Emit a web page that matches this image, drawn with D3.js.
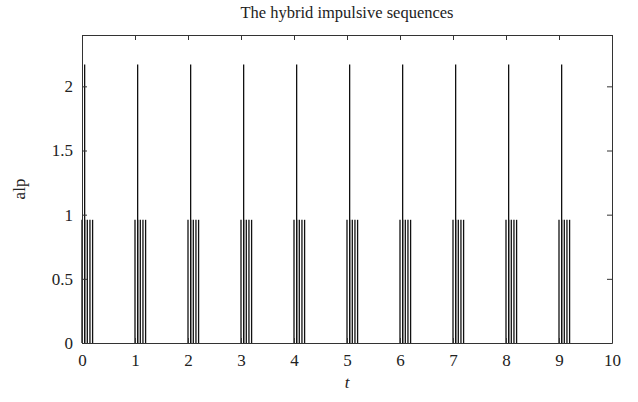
<!DOCTYPE html>
<html>
<head>
<meta charset="utf-8">
<script src="https://cdn.jsdelivr.net/npm/d3@7"></script>
<style>
    body { margin: 0; background: #fff; }
    #chart { width: 638px; height: 402px; }
    text { font-family: "Liberation Serif", "DejaVu Serif", serif; fill: #222; }
</style>
</head>
<body>
<div id="chart"></div>
<script>
// short impulses (height ~0.96), five per period
const shortTimes = [
    0.00, 0.05, 0.10, 0.15, 0.20,
    1.00, 1.05, 1.10, 1.15, 1.20,
    2.00, 2.05, 2.10, 2.15, 2.20,
    3.00, 3.05, 3.10, 3.15, 3.20,
    4.00, 4.05, 4.10, 4.15, 4.20,
    5.00, 5.05, 5.10, 5.15, 5.20,
    6.00, 6.05, 6.10, 6.15, 6.20,
    7.00, 7.05, 7.10, 7.15, 7.20,
    8.00, 8.05, 8.10, 8.15, 8.20,
    9.00, 9.05, 9.10, 9.15, 9.20
]
const shortHeight = 0.96

// tall impulses (height ~2.17), one per period
const tallTimes = [0.05, 1.05, 2.05, 3.05, 4.05, 5.05, 6.05, 7.05, 8.05, 9.05]
const tallHeight = 2.17

const xTicks = [0, 1, 2, 3, 4, 5, 6, 7, 8, 9, 10]
const yTicks = [0, 0.5, 1, 1.5, 2]
const xLim = [0, 10]
const yLim = [0, 2.4]

class ImpulsePlot {
    constructor(parentElement) {
        this.parentElement = parentElement
        this.initVis()
    }

    initVis() {
        let vis = this
        vis.margin = {top: 35, right: 26, bottom: 59, left: 82}
        vis.width = 638 - vis.margin.left - vis.margin.right
        vis.height = 402 - vis.margin.top - vis.margin.bottom

        vis.svg = d3.select("#" + vis.parentElement).append("svg")
            .attr("width", 638)
            .attr("height", 402)

        vis.g = vis.svg.append("g")
            .attr("transform", `translate(${vis.margin.left}, ${vis.margin.top})`)

        vis.x = d3.scaleLinear().domain(xLim).range([0, vis.width])
        vis.y = d3.scaleLinear().domain(yLim).range([vis.height, 0])

        vis.wrangleData()
    }

    wrangleData() {
        let vis = this
        vis.impulses = shortTimes.map(t => ({t: t, v: shortHeight}))
            .concat(tallTimes.map(t => ({t: t, v: tallHeight})))
        vis.updateVis()
    }

    updateVis() {
        let vis = this
        let tickLen = 5

        // impulse stems
        vis.g.selectAll(".stem")
            .data(vis.impulses)
            .enter()
            .append("line")
            .attr("class", "stem")
            .attr("x1", d => vis.x(d.t))
            .attr("x2", d => vis.x(d.t))
            .attr("y1", vis.y(0))
            .attr("y2", d => vis.y(d.v))
            .attr("stroke", "#111")
            .attr("stroke-width", 1.3)

        // axes, ticks pointing inward like matlab
        let bottom = vis.g.append("g")
            .attr("transform", `translate(0, ${vis.height})`)
            .call(d3.axisBottom(vis.x).tickValues(xTicks).tickFormat(d3.format("d"))
                .tickSizeInner(-tickLen).tickSizeOuter(0).tickPadding(11))
        let top = vis.g.append("g")
            .call(d3.axisTop(vis.x).tickValues(xTicks).tickFormat("")
                .tickSizeInner(-tickLen).tickSizeOuter(0))
        let left = vis.g.append("g")
            .call(d3.axisLeft(vis.y).tickValues(yTicks).tickFormat(d => d)
                .tickSizeInner(-tickLen).tickSizeOuter(0).tickPadding(9))
        let right = vis.g.append("g")
            .attr("transform", `translate(${vis.width}, 0)`)
            .call(d3.axisRight(vis.y).tickValues(yTicks).tickFormat("")
                .tickSizeInner(-tickLen).tickSizeOuter(0))

        ;[bottom, top, left, right].forEach(a => {
            a.selectAll("path, line").attr("stroke", "#333").attr("stroke-width", 1)
            a.selectAll("text").style("font-size", "17px").attr("fill", "#222")
        })

        // title
        vis.svg.append("text")
            .attr("x", vis.margin.left + vis.width / 2)
            .attr("y", 18)
            .attr("text-anchor", "middle")
            .style("font-size", "16.5px")
            .text("The hybrid impulsive sequences")

        // x label
        vis.svg.append("text")
            .attr("x", vis.margin.left + vis.width / 2)
            .attr("y", vis.margin.top + vis.height + 45)
            .attr("text-anchor", "middle")
            .style("font-size", "17px")
            .style("font-style", "italic")
            .text("t")

        // y label
        vis.svg.append("text")
            .attr("transform", `translate(25, ${vis.margin.top + vis.height / 2}) rotate(-90)`)
            .attr("text-anchor", "middle")
            .style("font-size", "17px")
            .text("alp")
    }
}

new ImpulsePlot("chart")
</script>
</body>
</html>
